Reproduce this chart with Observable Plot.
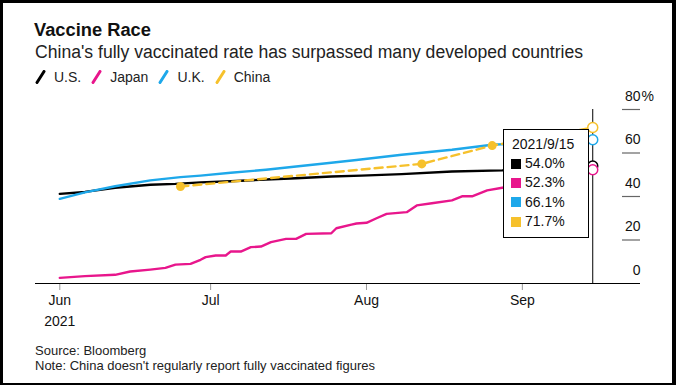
<!DOCTYPE html>
<html>
<head>
<meta charset="utf-8">
<script src="https://cdn.jsdelivr.net/npm/d3@7"></script>
<script src="https://cdn.jsdelivr.net/npm/@observablehq/plot@0.6"></script>
<style>
  html, body { margin:0; padding:0; background:#fff; }
  body { width:676px; height:385px; position:relative; overflow:hidden; font-family:"Liberation Sans", Arial, Helvetica, sans-serif; color:#111; }
  .frame { position:absolute; left:0; top:0; width:676px; height:385px; box-sizing:border-box; border-style:solid; border-color:#000; border-width:3px 4px 2px 3px; pointer-events:none; z-index:10; }
  .title { position:absolute; left:34px; top:20px; font-size:18.3px; font-weight:bold; line-height:20px; white-space:nowrap; }
  .subtitle { position:absolute; left:35px; top:42px; font-size:17.6px; line-height:20px; white-space:nowrap; color:#222; }
  .legend { position:absolute; left:35px; top:69px; font-size:14px; line-height:16px; white-space:nowrap; display:flex; align-items:center; color:#222; }
  .legend .item { display:flex; align-items:center; margin-right:10px; }
  .legend svg { margin-right:8px; }
  #chart { position:absolute; left:0; top:85px; }
  .caption { position:absolute; left:35px; top:343px; font-size:13px; line-height:15px; color:#222; white-space:nowrap; }
  .tip { position:absolute; left:503px; top:129px; width:86px; height:109px; box-sizing:border-box; border:1px solid #000; background:#fff; font-size:14px; padding:5px 0 0 7px; color:#111; z-index:5; }
  .tip .hd { line-height:19px; padding-left:1px; }
  .tip .row { display:flex; align-items:center; line-height:19.3px; }
  .tip .sw { width:10px; height:10px; margin-right:4px; }
</style>
</head>
<body>
<div class="frame"></div>
<div class="title">Vaccine Race</div>
<div class="subtitle">China's fully vaccinated rate has surpassed many developed countries</div>
<div class="legend" id="legend"></div>
<div id="chart"></div>
<div class="tip" id="tip"></div>
<div class="caption">Source: Bloomberg<br>Note: China doesn't regularly report fully vaccinated figures</div>
<script>
// ---- data ----
const seriesNames = ["U.S.", "Japan", "U.K.", "China"];
const seriesColors = ["#000000", "#e8168c", "#1ea8ea", "#f6c12c"];

const us = [
  ["2021-06-01", 41.2], ["2021-06-06", 42.1], ["2021-06-12", 44.0], ["2021-06-19", 45.4],
  ["2021-06-24", 45.8], ["2021-06-29", 46.5], ["2021-07-05", 47.0], ["2021-07-12", 47.8],
  ["2021-07-18", 48.4], ["2021-07-25", 49.2], ["2021-07-31", 49.6], ["2021-08-08", 50.3],
  ["2021-08-18", 51.5], ["2021-08-28", 52.0], ["2021-09-05", 52.9], ["2021-09-10", 53.5],
  ["2021-09-15", 54.0]
];
const japan = [
  ["2021-06-01", 2.6], ["2021-06-06", 3.4], ["2021-06-12", 4.0], ["2021-06-15", 5.5],
  ["2021-06-19", 6.4], ["2021-06-22", 7.2], ["2021-06-24", 8.7], ["2021-06-27", 9.0],
  ["2021-06-29", 10.9], ["2021-06-30", 12.1], ["2021-07-02", 12.9], ["2021-07-04", 12.9],
  ["2021-07-05", 14.7], ["2021-07-07", 14.7], ["2021-07-09", 16.7], ["2021-07-11", 17.0],
  ["2021-07-13", 19.0], ["2021-07-16", 20.5], ["2021-07-18", 20.5], ["2021-07-20", 22.8],
  ["2021-07-25", 23.1], ["2021-07-26", 25.4], ["2021-07-29", 27.1], ["2021-07-30", 27.6],
  ["2021-08-01", 27.9], ["2021-08-03", 30.0], ["2021-08-05", 32.0], ["2021-08-09", 32.8],
  ["2021-08-11", 35.9], ["2021-08-14", 36.9], ["2021-08-18", 38.2], ["2021-08-20", 40.1],
  ["2021-08-22", 40.1], ["2021-08-25", 42.8], ["2021-08-28", 44.0], ["2021-09-01", 45.5],
  ["2021-09-04", 47.0], ["2021-09-08", 48.8], ["2021-09-11", 50.5], ["2021-09-15", 52.3]
];
const uk = [
  ["2021-06-01", 38.9], ["2021-06-06", 41.9], ["2021-06-12", 44.7], ["2021-06-19", 47.4],
  ["2021-06-25", 48.9], ["2021-06-29", 49.6], ["2021-07-05", 50.9], ["2021-07-12", 52.3],
  ["2021-07-18", 53.8], ["2021-07-25", 55.5], ["2021-07-30", 56.8], ["2021-08-08", 59.2],
  ["2021-08-18", 61.5], ["2021-08-26", 63.8], ["2021-09-05", 64.9], ["2021-09-10", 65.5],
  ["2021-09-15", 66.1]
];
const china = [
  ["2021-06-25", 44.6], ["2021-08-12", 55.0], ["2021-08-26", 63.4], ["2021-09-15", 71.7]
];

const xDomain = ["2021-05-27T04:00Z", "2021-09-24T12:00Z"];
const monthTicks = ["2021-06-01", "2021-07-01", "2021-08-01", "2021-09-01"];
const monthLabels = ["Jun\n2021", "Jul", "Aug", "Sep"];
const yTicks = [0, 20, 40, 60, 80];
const tipDate = "2021-09-15";
const tipLabel = "2021/9/15";

// ---- build ----
const parse = d3.utcParse("%Y-%m-%d");
const toRows = (arr, name) => arr.map(([d, v]) => ({date: parse(d), value: v, name}));
const allSeries = [us, japan, uk, china];
const rows = allSeries.map((s, i) => toRows(s, seriesNames[i]));
const colorOf = Object.fromEntries(seriesNames.map((n, i) => [n, seriesColors[i]]));
const tickDates = monthTicks.map(parse);
const labelMap = new Map(tickDates.map((d, i) => [+d, monthLabels[i]]));
const tipX = parse(tipDate);
const lastRows = rows.map(r => r[r.length - 1]);

const plotW = 676, mL = 35, mR = 36;

const chart = Plot.plot({
  width: plotW,
  height: 260,
  marginLeft: mL,
  marginRight: mR,
  marginTop: 24,
  marginBottom: 62,
  style: {fontFamily: '"Liberation Sans", Arial, Helvetica, sans-serif', fontSize: "14px", color: "#111", background: "transparent", overflow: "visible"},
  x: {type: "utc", domain: xDomain.map(d => new Date(d)), axis: null},
  y: {domain: [0, 80], axis: null},
  marks: [
    // x axis
    Plot.axisX(tickDates, {tickFormat: d => labelMap.get(+d), tickSize: 7, tickPadding: 0, fontSize: 14, lineHeight: 1.5, stroke: "#999", color: "#111"}),
    // y tick lines (short, inside right edge)
    Plot.tickY(yTicks.filter(d => d > 0), {y: d => d, insetLeft: plotW - mL - mR - 18, stroke: "#666", strokeWidth: 1.2}),
    Plot.text(yTicks, {y: d => d, text: d => String(d), frameAnchor: "right", textAnchor: "end", dy: -13, fontSize: 14, fill: "#111"}),
    Plot.text(yTicks.filter(d => d === d3.max(yTicks)), {y: d => d, text: () => "%", frameAnchor: "right", textAnchor: "start", dy: -13, dx: 1, fontSize: 14, fill: "#111"}),
    Plot.ruleY([0], {stroke: "#000", strokeWidth: 1.2}),
    // date rule
    Plot.ruleX([tipX], {y1: 0, y2: d3.max(yTicks), stroke: "#000", strokeWidth: 1}),
    // lines
    Plot.line(rows[1], {x: "date", y: "value", stroke: colorOf["Japan"], strokeWidth: 2.4}),
    Plot.line(rows[0], {x: "date", y: "value", stroke: colorOf["U.S."], strokeWidth: 2.4}),
    Plot.line(rows[2], {x: "date", y: "value", stroke: colorOf["U.K."], strokeWidth: 2.4}),
    Plot.line(rows[3], {x: "date", y: "value", stroke: colorOf["China"], strokeWidth: 2.4, strokeDasharray: "8,5"}),
    Plot.dot(rows[3].slice(0, -1), {x: "date", y: "value", r: 4.5, fill: colorOf["China"]}),
    // end markers
    Plot.dot(lastRows, {x: "date", y: "value", r: 5, fill: "#fff", stroke: d => colorOf[d.name], strokeWidth: 1.5})
  ]
});
document.getElementById("chart").appendChild(chart);

// legend
const legend = document.getElementById("legend");
seriesNames.forEach((n, i) => {
  const item = document.createElement("div");
  item.className = "item";
  item.innerHTML = `<svg width="11" height="14" viewBox="0 0 11 14"><line x1="2" y1="12.5" x2="9" y2="1.5" stroke="${seriesColors[i]}" stroke-width="3" stroke-linecap="round"/></svg><span>${n}</span>`;
  legend.appendChild(item);
});

// tooltip content from data
const tip = document.getElementById("tip");
let html = `<div class="hd">${tipLabel}</div>`;
lastRows.forEach(r => {
  html += `<div class="row"><div class="sw" style="background:${colorOf[r.name]}"></div><span>${r.value.toFixed(1)}%</span></div>`;
});
tip.innerHTML = html;
</script>
</body>
</html>
